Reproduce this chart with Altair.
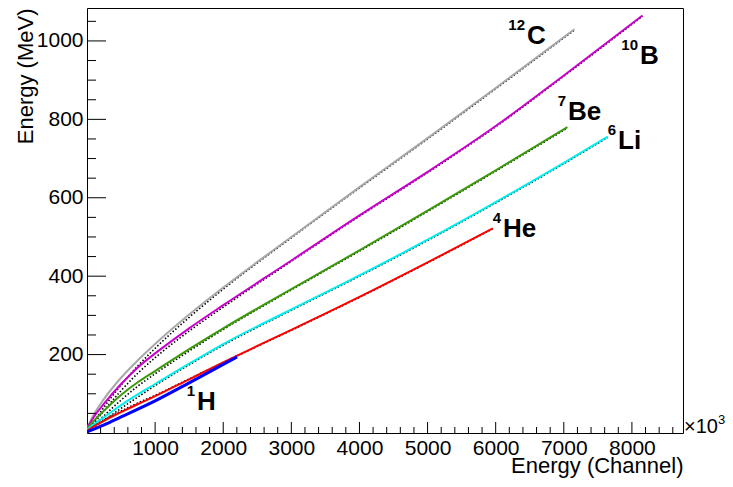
import altair as alt
import pandas as pd

# ---------------- data ----------------
H_x = [0, 250, 500, 1000, 1500, 2000, 2203]
H_y = [3, 21, 41, 82, 128, 175, 194]

He_x = [0, 100, 250, 500, 750, 1000, 1500, 2000, 2500, 3000, 4000, 5000, 5957]
He_y = [6, 17, 31, 53, 74, 94, 137, 180, 222, 263, 347, 435, 522]
He_fit = [9, 20, 34, 56, 77, 96, 138, 180, 221, 262, 346, 434, 521]

Li_x = [0, 100, 250, 500, 750, 1000, 1500, 2000, 3000, 4000, 5000, 6000, 7000, 7645]
Li_y = [8, 22, 40, 71, 99, 125, 177, 227, 315, 402, 493, 589, 689, 756]
Li_fit = [0, 14, 32, 63, 92, 121, 174, 224, 313, 400, 491, 587, 687, 754]

Be_x = [0, 100, 250, 500, 750, 1000, 1500, 2000, 3000, 4000, 5000, 6000, 7053]
Be_y = [10, 31, 57, 97, 130, 158, 214, 267, 367, 466, 567, 670, 780]
Be_fit = [0, 19, 44, 84, 120, 151, 209, 264, 365, 464, 565, 668, 778]

B_x = [0, 100, 250, 500, 750, 1000, 1500, 2000, 3000, 4000, 5000, 6000, 7000, 8155]
B_y = [12, 41, 75, 125, 168, 203, 267, 326, 440, 555, 666, 783, 912, 1065]
B_fit = [0, 24, 57, 108, 153, 192, 260, 321, 438, 553, 664, 781, 910, 1063]

C_x = [0, 100, 250, 500, 750, 1000, 1500, 2000, 3000, 4000, 5000, 6000, 7156]
C_y = [12, 47, 87, 141, 186, 227, 302, 371, 500, 627, 752, 880, 1030]
C_fit = [0, 28, 66, 122, 172, 216, 295, 367, 498, 625, 750, 878, 1028]

lbl_main = ["C", "B", "Be", "Li", "He", "H"]
lbl_sup = ["12", "10", "7", "6", "4", "1"]
lbl_x = [6460, 8119, 7062, 7796, 6107, 1615]
lbl_y = [993, 942, 798, 724, 501, 59]

x_major = [1000, 2000, 3000, 4000, 5000, 6000, 7000, 8000]
x_minor = [v for v in range(200, 8750, 200) if v % 1000 != 0]
y_major = [200, 400, 600, 800, 1000]
y_minor = [v for v in range(50, 1084, 50) if v % 200 != 0]

# ---------------- layout ----------------
PW, PH = 596, 425
X_MAX, Y_MAX = 8750, 1084
FONT = "Liberation Sans"
PX_X = X_MAX / PW      # channel units per pixel
PX_Y = Y_MAX / PH      # MeV per pixel

xscale = alt.Scale(domain=[0, X_MAX], nice=False, zero=False)
yscale = alt.Scale(domain=[0, Y_MAX], nice=False, zero=False)

xaxis = alt.Axis(
    title="Energy (Channel)", values=x_major, format="d", grid=False,
    ticks=False, tickSize=0, domain=False, labelFontSize=21, labelFont=FONT,
    labelColor="black", labelPadding=4, labelFlush=False, labelOverlap=False,
    titleFont=FONT, titleFontSize=22, titleFontWeight="normal", titleColor="black",
    titleX=PW, titleY=39, titleAlign="right", titleBaseline="alphabetic",
)
yaxis = alt.Axis(
    title="Energy (MeV)", values=y_major, format="d", grid=False,
    ticks=False, tickSize=0, domain=False, labelFontSize=21, labelFont=FONT,
    labelColor="black", labelPadding=4, labelFlush=False, labelOverlap=False,
    titleFont=FONT, titleFontSize=22, titleFontWeight="normal", titleColor="black",
    titleX=-55, titleY=0, titleAlign="right", titleAngle=270, titleBaseline="alphabetic",
)


def X(field):
    return alt.X(field, type="quantitative", scale=xscale, axis=xaxis)


def Y(field):
    return alt.Y(field, type="quantitative", scale=yscale, axis=yaxis)


def line(xs, ys, color, width, dash=None):
    df = pd.DataFrame({"x": xs, "y": ys})
    kw = dict(color=color, strokeWidth=width, interpolate="monotone", clip=True)
    if dash:
        kw["strokeDash"] = dash
    return alt.Chart(df).mark_line(**kw).encode(x=X("x"), y=Y("y"))


layers = []
# black dotted fits underneath
for xs, ys in [(C_x, C_fit), (B_x, B_fit), (Be_x, Be_fit), (Li_x, Li_fit), (He_x, He_fit)]:
    layers.append(line(xs, ys, "black", 1.6, [1.5, 2]))
# coloured curves
layers.append(line(C_x, C_y, "#a8a8a8", 2))
layers.append(line(B_x, B_y, "#cc00cc", 2))
layers.append(line(Be_x, Be_y, "#3a9a08", 2))
layers.append(line(Li_x, Li_y, "#00eeee", 2))
layers.append(line(He_x, He_y, "#ff0000", 2))
layers.append(line(H_x, H_y, "#0000ff", 3))


# inward tick marks (ROOT style)
def xticks(vals, length_px):
    return alt.Chart(pd.DataFrame({"v": vals})).mark_rule(color="black", strokeWidth=1).encode(
        x=X("v"),
        y=alt.YDatum(0, scale=yscale, axis=yaxis),
        y2=alt.Y2Datum(length_px * PX_Y),
    )


def yticks(vals, length_px):
    return alt.Chart(pd.DataFrame({"v": vals})).mark_rule(color="black", strokeWidth=1).encode(
        y=Y("v"),
        x=alt.XDatum(0, scale=xscale, axis=xaxis),
        x2=alt.X2Datum(length_px * PX_X),
    )


layers += [xticks(x_major, 11), xticks(x_minor, 6), yticks(y_major, 19), yticks(y_minor, 9)]

# curve labels
lbl_df = pd.DataFrame({"m": lbl_main, "s": lbl_sup, "x": lbl_x, "y": lbl_y})
main_txt = alt.Chart(lbl_df).mark_text(
    font=FONT, fontSize=26, fontWeight="bold", align="left", baseline="alphabetic", color="black"
).encode(x=X("x"), y=Y("y"), text="m:N")
sup_txt = alt.Chart(lbl_df).mark_text(
    font=FONT, fontSize=15, fontWeight="bold", align="right", baseline="alphabetic",
    dx=-2, dy=-14, color="black"
).encode(x=X("x"), y=Y("y"), text="s:N")
layers += [main_txt, sup_txt]

# x10^3 multiplier
mult = alt.Chart(pd.DataFrame({"t": ["×10"]})).mark_text(
    font=FONT, fontSize=20, align="left", baseline="alphabetic", color="black"
).encode(x=alt.value(PW + 1), y=alt.value(PH), text="t:N")
mult_exp = alt.Chart(pd.DataFrame({"t": ["3"]})).mark_text(
    font=FONT, fontSize=13, align="left", baseline="alphabetic", color="black"
).encode(x=alt.value(PW + 35), y=alt.value(PH - 9), text="t:N")
layers += [mult, mult_exp]

chart = alt.layer(*layers).properties(
    width=PW, height=PH,
    autosize=alt.AutoSizeParams(type="none"),
    padding={"left": 79, "top": 0, "right": 42, "bottom": 46},
    background="white",
).configure_view(stroke="black", strokeWidth=1)

chart.save("out.html", embed_options={"renderer": "svg", "actions": False})
